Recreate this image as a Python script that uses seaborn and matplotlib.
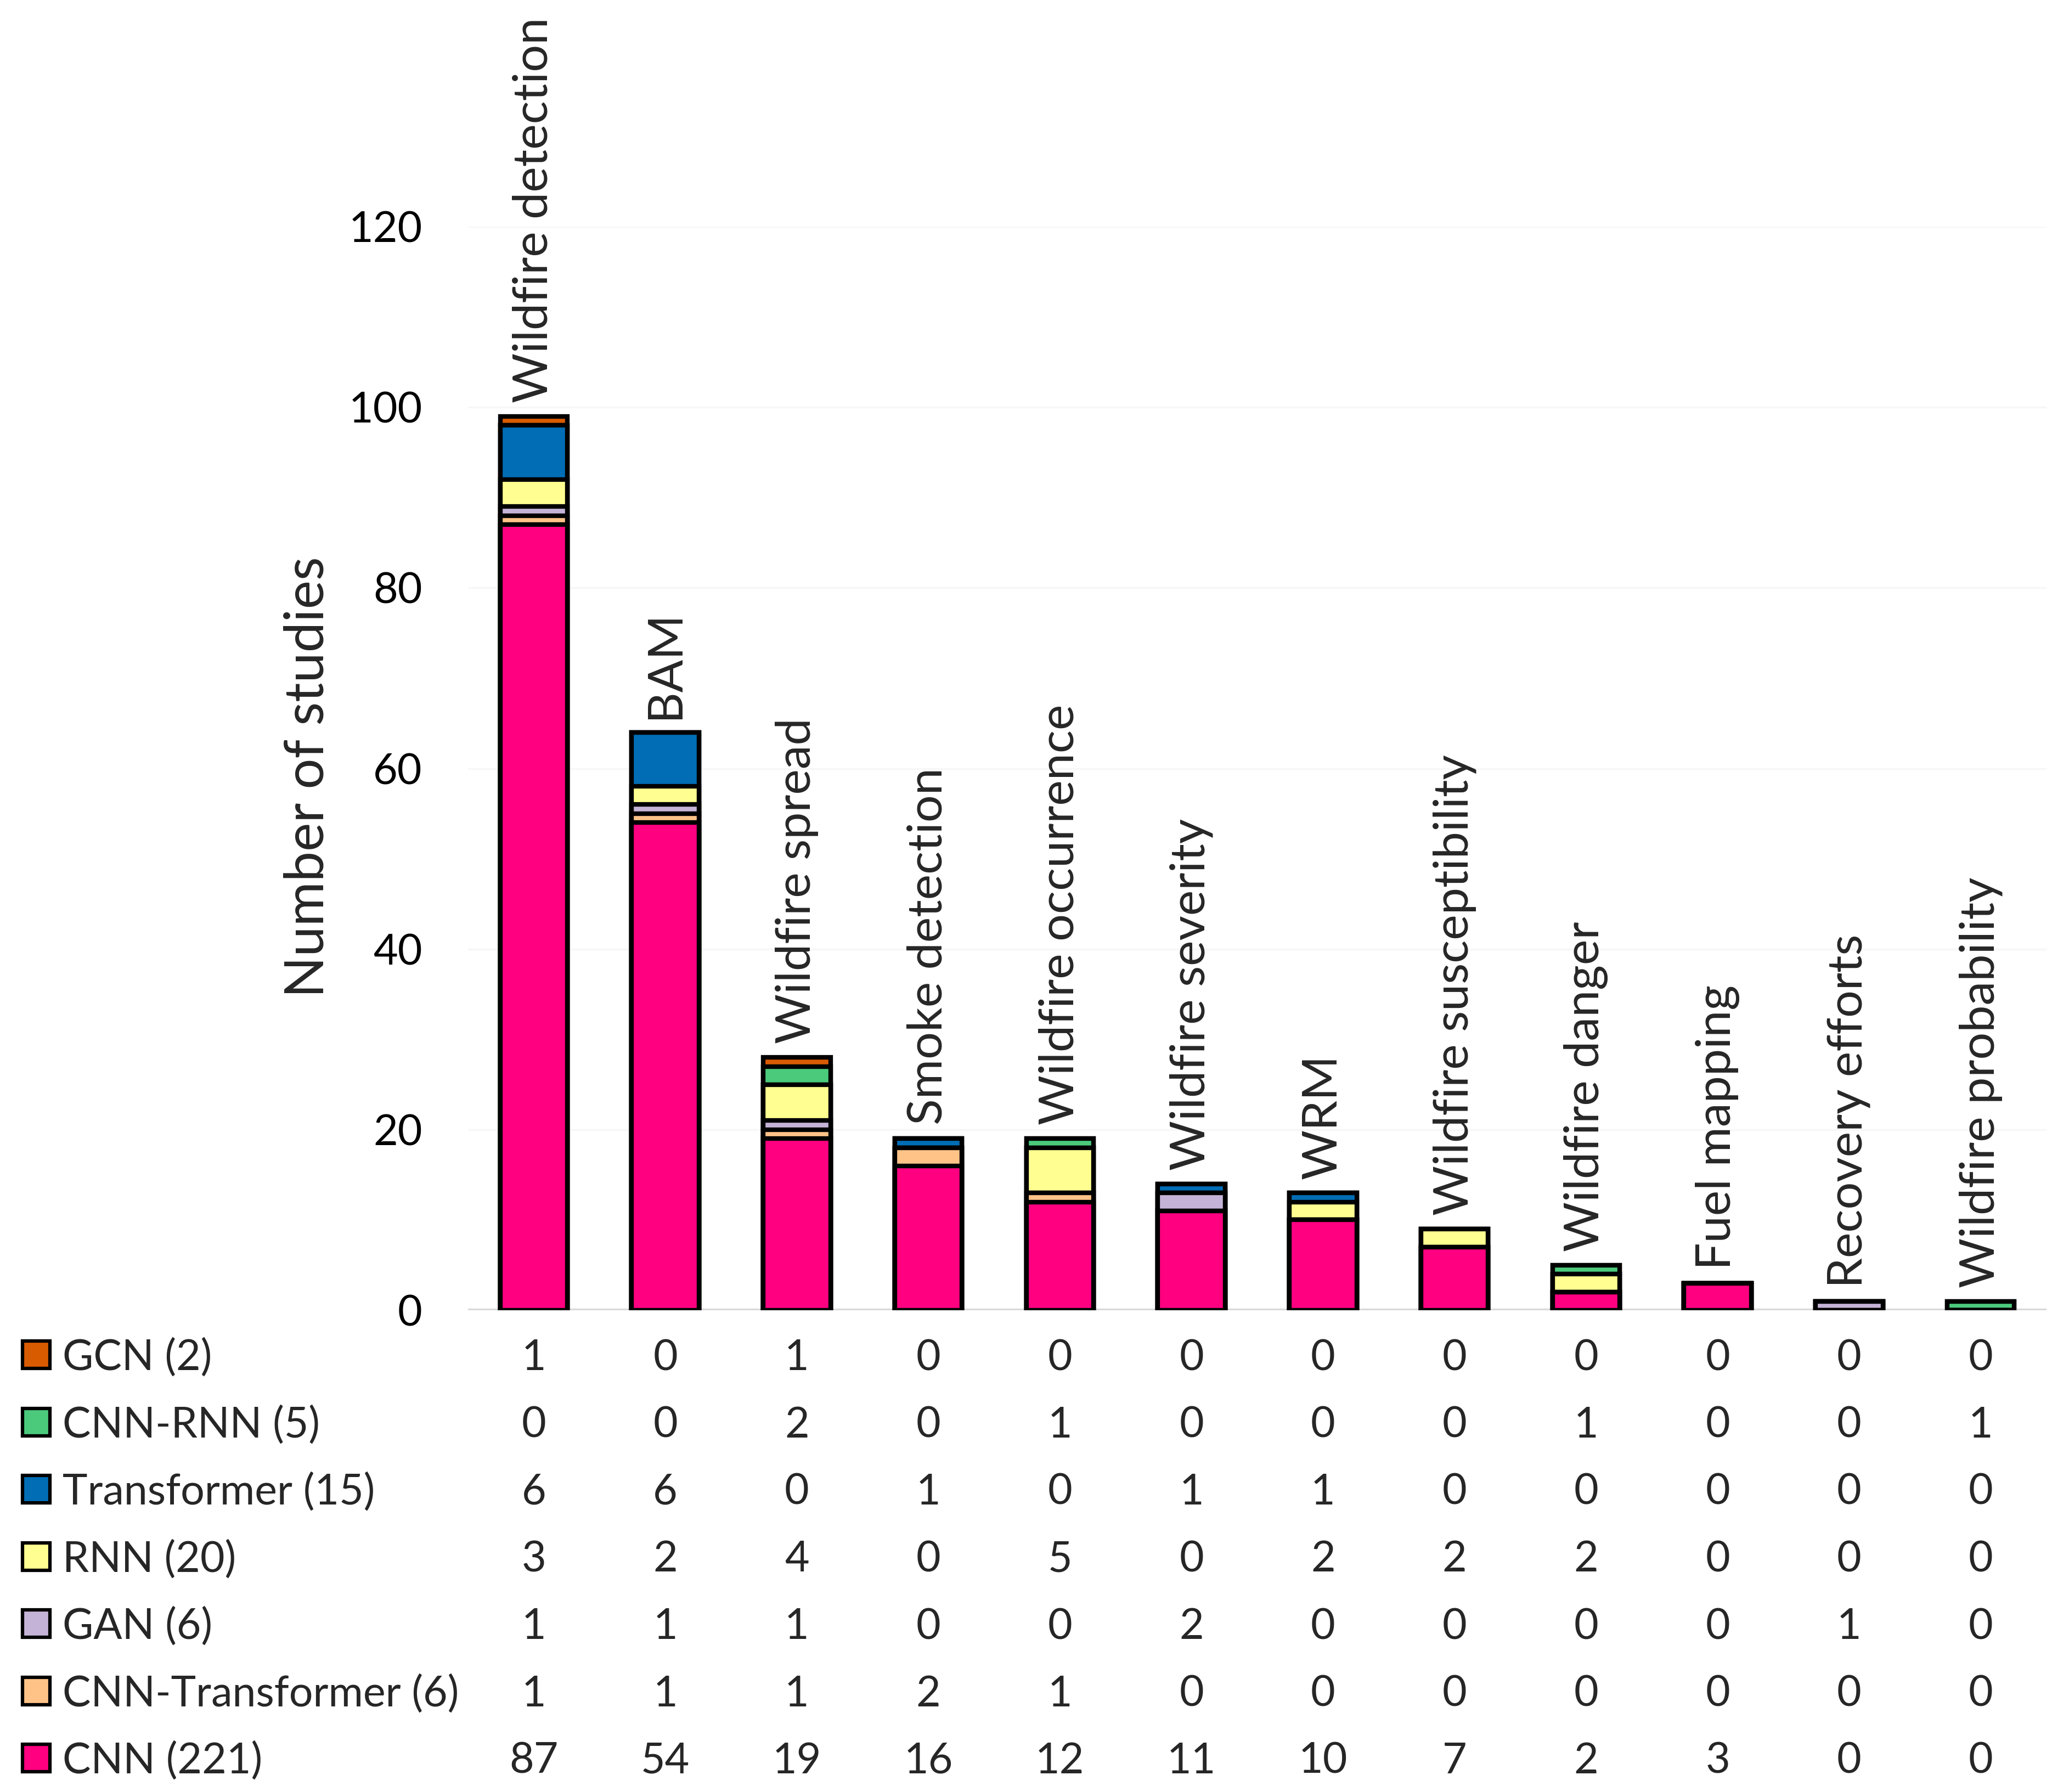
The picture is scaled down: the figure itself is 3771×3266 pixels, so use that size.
import pandas as pd
import matplotlib
matplotlib.use('Agg')
import matplotlib.pyplot as plt
import matplotlib.transforms as mtransforms
from matplotlib.patches import Rectangle
import seaborn as sns

# Categories (tasks) along the x axis
categories = ['Wildfire detection', 'BAM', 'Wildfire spread', 'Smoke detection',
              'Wildfire occurrence', 'Wildfire severity', 'WRM', 'Wildfire susceptibility',
              'Wildfire danger', 'Fuel mapping', 'Recovery efforts', 'Wildfire probability']

# Number of studies per model family, stacked from bottom to top
cnn = [87, 54, 19, 16, 12, 11, 10, 7, 2, 3, 0, 0]
cnn_transformer = [1, 1, 1, 2, 1, 0, 0, 0, 0, 0, 0, 0]
gan = [1, 1, 1, 0, 0, 2, 0, 0, 0, 0, 1, 0]
rnn = [3, 2, 4, 0, 5, 0, 2, 2, 2, 0, 0, 0]
transformer = [6, 6, 0, 1, 0, 1, 1, 0, 0, 0, 0, 0]
cnn_rnn = [0, 0, 2, 0, 1, 0, 0, 0, 1, 0, 0, 1]
gcn = [1, 0, 1, 0, 0, 0, 0, 0, 0, 0, 0, 0]

series_names = ['CNN', 'CNN-Transformer', 'GAN', 'RNN', 'Transformer', 'CNN-RNN', 'GCN']
series_values = [cnn, cnn_transformer, gan, rnn, transformer, cnn_rnn, gcn]
colors = ['#FF0080', '#FFC388', '#C5B3D7', '#FFFF91', '#006DB5', '#4BCA7C', '#D95B00']

y_ticks = [0, 20, 40, 60, 80, 100, 120]

# Figure size in pixels
W, H, DPI = 3771, 3266, 300

sns.set_theme(style='white')
plt.rcParams['font.family'] = ['Lato', 'DejaVu Sans']

fig = plt.figure(figsize=(W / DPI, H / DPI), dpi=DPI)
ax = fig.add_axes([853 / W, 1 - 2388 / H, 2877 / W, (2388 - 413) / H])

data = pd.DataFrame(dict(zip(series_names, series_values)), index=categories)
cum = data.cumsum(axis=1)

# Stacked bars: draw cumulative totals from the top layer down
for name, color in reversed(list(zip(series_names, colors))):
    sns.barplot(x=categories, y=cum[name].values, order=categories, color=color,
                saturation=1, edgecolor='black', linewidth=2.0, width=0.51,
                errorbar=None, ax=ax, zorder=2)

ax.set_xlim(-0.5, len(categories) - 0.5)
ax.set_ylim(0, 120)
ax.set_yticks(y_ticks)
ax.set_xlabel('')
ax.tick_params(axis='x', bottom=False, labelbottom=False)
ax.tick_params(axis='y', length=0, pad=20, labelsize=18.5, labelcolor='black')
for side in ['top', 'right', 'left', 'bottom']:
    ax.spines[side].set_visible(False)
ax.yaxis.grid(True, color='#F7F7F7', linewidth=0.8)
ax.set_axisbelow(True)
ax.axhline(0, color='#D9D9D9', linewidth=1.5, zorder=1)

ax.set_ylabel('Number of studies', fontsize=23.7, va='center')
ax.yaxis.set_label_coords(562 / W, 1 - 1416 / H, transform=fig.transFigure)

# Category names above each stack
totals = cum[series_names[-1]].values
for i, (cat, tot) in enumerate(zip(categories, totals)):
    ax.annotate(cat, xy=(i, tot), xytext=(0, 6), textcoords='offset points',
                rotation=90, ha='center', va='bottom', fontsize=21.1)

# Data table with legend keys under the chart
row_y0, row_dy = 2469, 122.5
trans = mtransforms.blended_transform_factory(ax.transData, fig.transFigure)
for r, k in enumerate(reversed(range(len(series_names)))):
    yc = row_y0 + r * row_dy
    yb = 1 - (yc + 28) / H
    for i, v in enumerate(series_values[k]):
        ax.text(i, yb, str(v), transform=trans, ha='center', va='baseline', fontsize=18.5)
    fig.add_artist(Rectangle((41 / W, 1 - (yc + 25) / H), 50 / W, 50 / H,
                             facecolor=colors[k], edgecolor='black', linewidth=1.5,
                             transform=fig.transFigure))
    fig.text(114 / W, yb, f'{series_names[k]} ({sum(series_values[k])})',
             ha='left', va='baseline', fontsize=18.5)

fig.savefig('out.png', dpi=DPI)
